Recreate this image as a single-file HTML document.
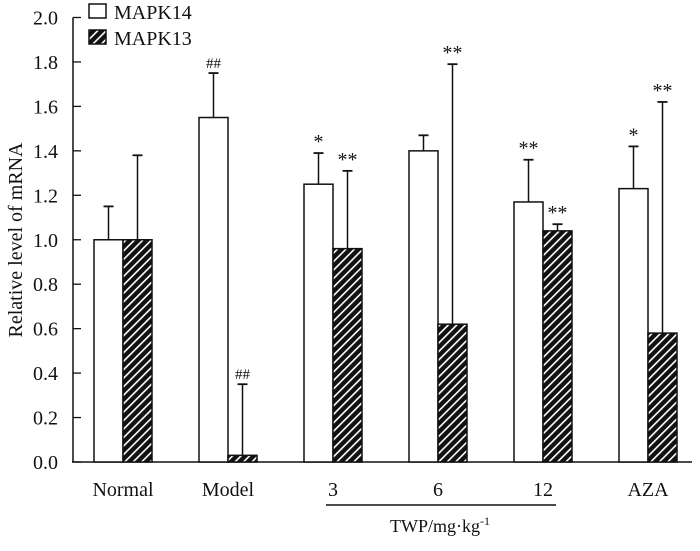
<!DOCTYPE html>
<html><head><meta charset="utf-8"><style>
body{margin:0;background:#fff}
svg text{font-family:"Liberation Serif",serif;fill:#111}
</style></head><body>
<svg id="c" width="700" height="546" viewBox="0 0 700 546">
<defs><pattern id="hatch" patternUnits="userSpaceOnUse" width="6" height="6" patternTransform="rotate(45)">
<rect width="6" height="6" fill="#111"/><rect x="0" y="0" width="1.6" height="6" fill="#fff"/></pattern></defs>
<g id="g"></g>
</svg>
<script>
const categories=["Normal","Model","3","6","12","AZA"];
const mapk14=[1.00,1.55,1.25,1.40,1.17,1.23];
const mapk14Err=[0.15,0.20,0.14,0.07,0.19,0.19];
const mapk13=[1.00,0.03,0.96,0.62,1.04,0.58];
const mapk13Err=[0.38,0.32,0.35,1.17,0.03,1.04];
const mapk14Sig=["","##","*","","**","*"];
const mapk13Sig=["","##","**","**","**","**"];
const yTicks=[0,0.2,0.4,0.6,0.8,1.0,1.2,1.4,1.6,1.8,2.0];
const NS="http://www.w3.org/2000/svg";
const g=document.getElementById('g');
const y0=462,yTop=17.5;
const y=v=>y0-(y0-yTop)*v/2.0;
const xc=i=>123+105*i;
const bw=29;
function mk(t,a,p){const e=document.createElementNS(NS,t);for(const k in a)e.setAttribute(k,a[k]);(p||g).appendChild(e);return e;}
// axes
let ax=mk('line',{x1:73,y1:y(2.0),x2:73,y2:y0,stroke:'#111','stroke-width':1.5});


let xa=mk('line',{x1:72,y1:y0,x2:692,y2:y0,stroke:'#111','stroke-width':1.5});


yTicks.forEach(v=>{
 let t=mk('line',{x1:73,y1:y(v),x2:81,y2:y(v),stroke:'#111','stroke-width':1.3});
 
 
 let l=mk('text',{x:58,y:y(v)+7,'text-anchor':'end','font-size':20});
 l.textContent=v.toFixed(1);
 
 
});
let yt=mk('text',{x:22,y:240,'text-anchor':'middle','font-size':20,transform:'rotate(-90 22 240)'});
yt.textContent='Relative level of mRNA';


function errbar(x,v,e){
 mk('line',{x1:x,y1:y(v),x2:x,y2:y(v+e),stroke:'#111','stroke-width':1.5});
 mk('line',{x1:x-5,y1:y(v+e),x2:x+5,y2:y(v+e),stroke:'#111','stroke-width':1.8});
}
function sig(x,v,e,s){ if(!s)return; let t=mk('text',{x:x,y:y(v+e)-5,'text-anchor':'middle','font-size':s[0]=='#'?15:20}); t.textContent=s;
 
 }
categories.forEach((c,i)=>{
 const x=xc(i);
 let b1=mk('rect',{x:x-bw,y:y(mapk14[i]),width:bw,height:y0-y(mapk14[i]),fill:'#fff',stroke:'#111','stroke-width':1.5});
 
 
 let b2=mk('rect',{x:x,y:y(mapk13[i]),width:bw,height:y0-y(mapk13[i]),fill:'url(#hatch)',stroke:'#111','stroke-width':1.5});
 
 
 errbar(x-bw/2,mapk14[i],mapk14Err[i]);
 errbar(x+bw/2,mapk13[i],mapk13Err[i]);
 sig(x-bw/2,mapk14[i],mapk14Err[i],mapk14Sig[i]);
 sig(x+bw/2,mapk13[i],mapk13Err[i],mapk13Sig[i]);
 let l=mk('text',{x:x,y:496,'text-anchor':'middle','font-size':20});
 l.textContent=c;
 
 
});
let ul=mk('line',{x1:326,y1:505,x2:556,y2:505,stroke:'#111','stroke-width':1.5});


let tw=mk('text',{x:440,y:532,'text-anchor':'middle','font-size':18});
tw.innerHTML='TWP/mg·kg<tspan dy="-7" font-size="12">-1</tspan>';


// legend
let lg=mk('g',{});


mk('rect',{x:89,y:4,width:17,height:14,fill:'#fff',stroke:'#111','stroke-width':1.5},lg);
let t1=mk('text',{x:114,y:19,'font-size':20},lg);t1.textContent='MAPK14';


mk('rect',{x:89,y:30,width:17,height:14,fill:'url(#hatch)',stroke:'#111','stroke-width':1.5},lg);
let t2=mk('text',{x:114,y:45,'font-size':20},lg);t2.textContent='MAPK13';


</script>
</body></html>
